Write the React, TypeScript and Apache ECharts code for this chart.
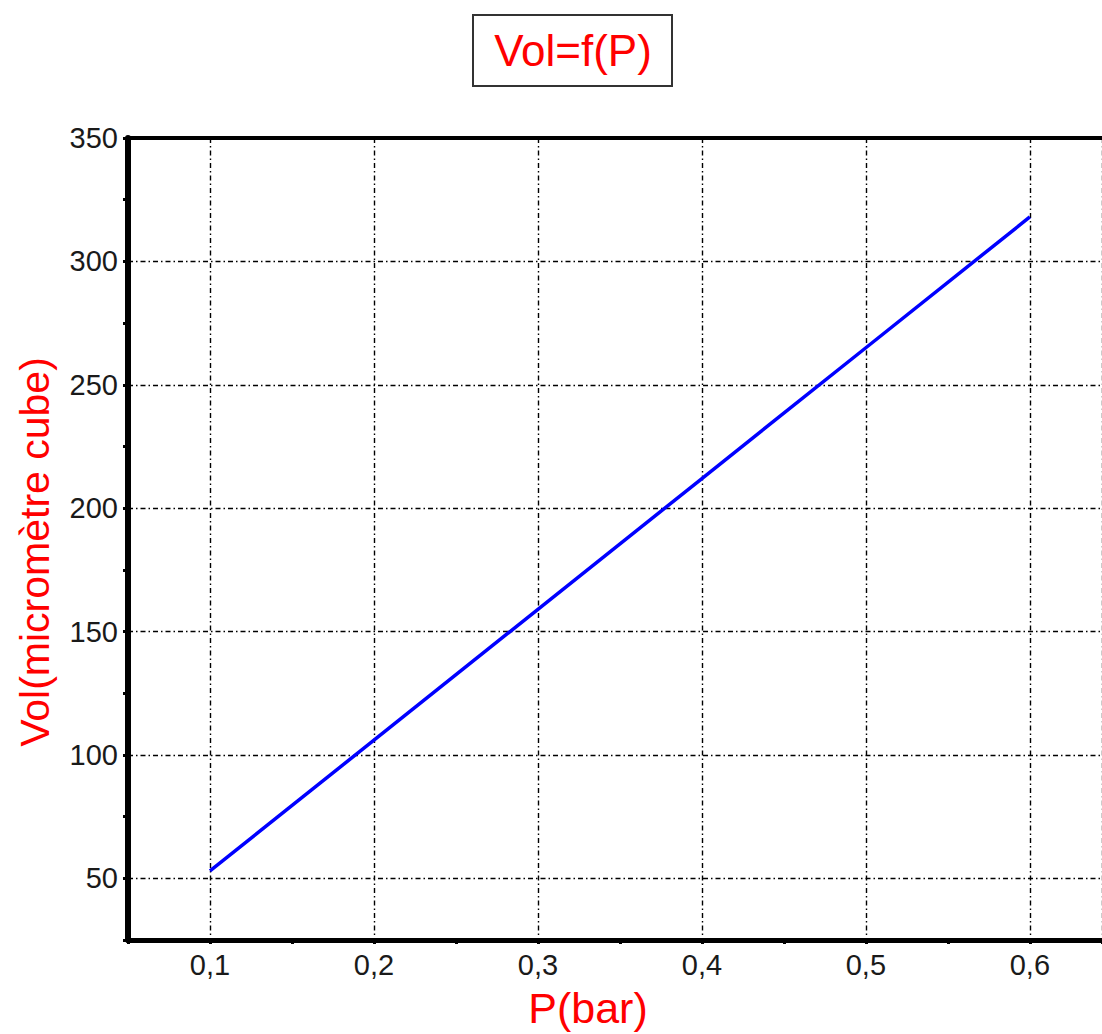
import React, { useEffect, useRef } from "react";
import * as echarts from "echarts";

const pressure = [0.1, 0.2, 0.3, 0.4, 0.5, 0.6];
const volume = [53, 106, 159, 212, 265, 318];
const titleText = "Vol=f(P)";
const xName = "P(bar)";
const yName = "Vol(micromètre cube)";

export default function App() {
  const ref = useRef<HTMLDivElement>(null);
  useEffect(() => {
    if (!ref.current) return;
    const chart = echarts.init(ref.current, null, { renderer: "svg" });
    const font = "Arial, 'Liberation Sans', sans-serif";
    const grid = { left: 128, right: 0, top: 138, bottom: 94 };
    const gridStyle = { color: "#000", width: 1.4, type: [5, 3, 1.5, 3] as any };
    chart.setOption({
      animation: false,
      backgroundColor: "#fff",
      grid,
      graphic: [
        {
          type: "rect",
          shape: { x: 473, y: 15, width: 199, height: 71 },
          style: { fill: "#fff", stroke: "#333", lineWidth: 2 },
        },
        {
          type: "text",
          x: 573,
          y: 50,
          style: {
            text: titleText,
            fill: "#ff0000",
            font: `44px ${font}`,
            align: "center",
            verticalAlign: "middle",
          },
        },
        {
          type: "text",
          x: 35,
          y: 552,
          rotation: Math.PI / 2,
          style: {
            text: yName,
            fill: "#ff0000",
            font: `41px ${font}`,
            align: "center",
            verticalAlign: "middle",
          },
        },
        {
          type: "text",
          x: 588,
          y: 1008,
          style: {
            text: xName,
            fill: "#ff0000",
            font: `43px ${font}`,
            align: "center",
            verticalAlign: "middle",
          },
        },
      ],
      xAxis: [
        {
          type: "value",
          position: "bottom",
          min: 0.05,
          max: 0.644,
          axisLine: { show: true, lineStyle: { color: "#000", width: 5 } },
          axisTick: { show: false },
          axisLabel: {
            showMinLabel: false,
            showMaxLabel: false,
            color: "#1a1a1a",
            fontSize: 29,
            fontFamily: font,
            margin: 10,
            formatter: (v: number) => v.toFixed(1).replace(".", ","),
          },
          splitLine: { show: true, lineStyle: gridStyle },
        },
        {
          type: "value",
          position: "bottom",
          min: 0.05,
          max: 0.644,
          interval: 0.05,
          axisLine: { show: false },
          axisTick: { show: true, length: 4, inside: false, lineStyle: { color: "#000", width: 3 } },
          axisLabel: { show: false },
          splitLine: { show: false },
        },
        {
          type: "value",
          position: "top",
          min: 0.05,
          max: 0.644,
          axisLine: { show: true, lineStyle: { color: "#000", width: 4 } },
          axisTick: { show: false },
          axisLabel: { show: false },
          splitLine: { show: false },
        },
      ],
      yAxis: [
        {
          type: "value",
          position: "left",
          min: 25,
          max: 350,
          axisLine: { show: true, lineStyle: { color: "#000", width: 6 } },
          axisTick: { show: false },
          axisLabel: {
            showMinLabel: false,
            color: "#1a1a1a",
            fontSize: 29,
            fontFamily: font,
            margin: 10,
          },
          splitLine: { show: true, lineStyle: gridStyle },
        },
        {
          type: "value",
          position: "left",
          min: 25,
          max: 350,
          interval: 25,
          axisLine: { show: false },
          axisTick: { show: true, length: 5, lineStyle: { color: "#000", width: 3 } },
          axisLabel: { show: false },
          splitLine: { show: false },
        },
      ],
      series: [
        {
          type: "line",
          xAxisIndex: 0,
          yAxisIndex: 0,
          data: pressure.map((p, i) => [p, volume[i]]),
          showSymbol: false,
          symbol: "none",
          lineStyle: { color: "#0000ff", width: 3.5 },
        },
      ],
    });
    return () => chart.dispose();
  }, []);
  return (
    <div
      ref={ref}
      style={{ position: "absolute", left: 0, top: 0, width: 1102, height: 1034 }}
    />
  );
}
